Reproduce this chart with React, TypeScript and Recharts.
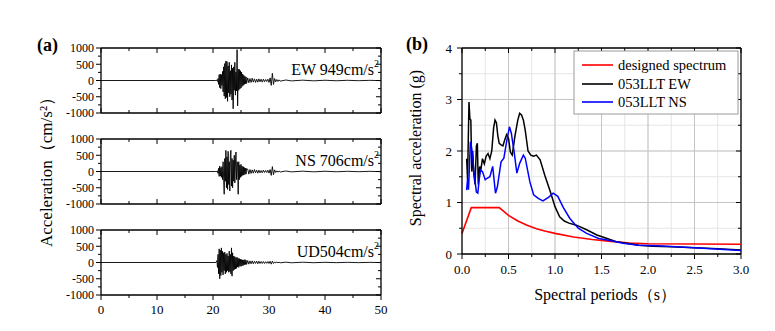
import React from 'react';
import { LineChart, Line, XAxis, YAxis, CartesianGrid, ReferenceLine } from 'recharts';

const FONT = "'Liberation Serif', 'Times New Roman', serif";

// ---------- (a) acceleration time histories ----------
const waveTimes = [
  0, 10, 20, 20.5,
  20.7, 20.8, 20.9, 21.0, 21.1, 21.2, 21.3, 21.4, 21.5, 21.6,
  21.7, 21.8, 21.9, 22.0, 22.1, 22.2, 22.3, 22.4, 22.5, 22.6,
  22.7, 22.8, 22.9, 23.0, 23.1, 23.2, 23.3, 23.4, 23.5, 23.6,
  23.7, 23.8, 23.9, 24.0, 24.1, 24.2, 24.3, 24.4, 24.5, 24.6,
  24.7, 24.8, 24.9, 25.0, 25.1, 25.2, 25.3, 25.4, 25.5, 25.6,
  25.7, 25.8, 25.9, 26.0,
  26.2, 26.4, 26.6, 26.8, 27.0, 27.2, 27.4, 27.6, 27.8, 28.0,
  28.2, 28.4, 28.6, 28.8, 29.0, 29.2, 29.4, 29.6, 29.8, 30.0,
  30.2, 30.4, 30.6, 30.8, 31.0, 31.2, 31.4, 31.6, 31.8, 32.0,
  33, 34, 36, 38, 40, 42, 44, 46, 48, 50,
];

const ewAcc = [
  0, 0, 0, 0,
  10, -30, 60, -120, 180, -220, 200, -250, 180, -150,
  280, -350, 420, -480, 520, -560, 600, -520, 580, -640,
  450, -380, 560, -500, 300, -420, 480, -600, 380, -870,
  420, -300, 560, -450, 260, -320, 949, -780, 350, -300,
  340, -260, 300, -230, 260, -180, 200, -150, 160, -120,
  130, -100, 110, -90,
  80, -70, 60, -60, 70, -50, 50, -60, 40, -50,
  50, -40, 40, -50, 40, -40, 30, -30, 40, -60,
  80, -150, 220, -120, 60, -40, 30, -30, 20, -20,
  15, -12, 10, -10, 8, -8, 6, -6, 5, -5,
];

const nsAcc = [
  0, 0, 0, 0,
  0, 20, -60, 100, -150, 170, -140, 120, -180, 150,
  -250, 300, -200, -700, 400, -300, 650, -500, 450, -550,
  620, -400, 300, -600, 500, 650, -450, 400, -500, 350,
  -300, 500, -350, 200, 600, -250, 300, 200, -700, 300,
  -250, 200, -180, 220, -150, 160, -120, 150, -110, 120,
  -90, 100, -80, 90,
  70, -80, 60, -60, 50, -50, 60, -40, 40, -50,
  40, -40, 30, -40, 40, -30, 30, -30, 40, -50,
  60, -120, 150, -100, 50, -30, 20, -20, 15, -15,
  15, -12, 10, -10, 8, -8, 6, -6, 5, -5,
];

const udAcc = [
  0, 0, 0, 0,
  60, -150, 250, -350, 420, -500, 380, -400, 450, -300,
  350, -380, 300, -250, 320, -350, 250, -300, 280, -250,
  200, -300, 350, -280, 250, -350, 450, -420, 300, -250,
  200, -220, 180, -200, 150, -180, 160, -140, 130, -150,
  120, -110, 100, -120, 90, -100, 80, -90, 80, -70,
  90, -60, 70, -60,
  60, -50, 50, -40, 50, -40, 40, -30, 40, -40,
  40, -30, 30, -30, 30, -30, 25, -25, 30, -30,
  40, -50, 40, -30, 20, -15, 15, -10, 10, -10,
  10, -8, 8, -6, 6, -5, 5, -4, 4, -3,
];

const waveXTicks = [0, 5, 10, 15, 20, 25, 30, 35, 40, 45, 50];
const waveYTicks = [-1000, -750, -500, -250, 0, 250, 500, 750, 1000];
const waveComponents = ['ew', 'ns', 'ud'];
const wavePeakText = ['EW 949cm/s', 'NS 706cm/s', 'UD504cm/s'];

const waveData = waveTimes.map((t, i) => ({ t, ew: ewAcc[i], ns: nsAcc[i], ud: udAcc[i] }));

// ---------- (b) response spectra ----------
const designPeriods = [0, 0.1, 0.4, 0.5, 0.6, 0.7, 0.8, 0.9, 1.0, 1.2, 1.4, 1.6, 1.8, 2.0, 2.5, 3.0];
const designSa = [0.4, 0.9, 0.9, 0.75, 0.64, 0.56, 0.49, 0.44, 0.4, 0.33, 0.28, 0.245, 0.215, 0.2, 0.195, 0.19];

const ewPeriods = [
  0.05, 0.06, 0.075, 0.085, 0.095, 0.105, 0.115, 0.125, 0.14, 0.155,
  0.165, 0.175, 0.19, 0.2, 0.22, 0.24, 0.26, 0.28, 0.3, 0.32,
  0.34, 0.355, 0.37, 0.385, 0.4, 0.42, 0.44, 0.46, 0.48, 0.5,
  0.52, 0.54, 0.57, 0.6, 0.62, 0.64, 0.66, 0.68, 0.71, 0.74,
  0.77, 0.8, 0.84, 0.89, 0.95, 1.0, 1.05, 1.1, 1.15, 1.23,
  1.34, 1.45, 1.56, 1.66, 1.77, 1.9, 2.05, 2.25, 2.5, 2.75, 3.0,
];
const ewSa = [
  1.85, 1.45, 2.95, 2.62, 2.6, 1.6, 2.0, 1.6, 1.35, 2.1,
  2.15, 1.35, 1.7, 1.6, 1.85, 1.75, 1.9, 1.95, 1.85, 2.0,
  2.45, 2.6, 2.55, 2.3, 2.15, 2.12, 2.1, 2.22, 2.32, 2.25,
  1.98, 1.92, 2.3, 2.6, 2.73, 2.7, 2.6, 2.4, 2.0, 1.92,
  1.9, 1.92, 1.83, 1.53, 1.21, 0.92, 0.72, 0.64, 0.6, 0.56,
  0.47, 0.37, 0.3, 0.24, 0.21, 0.17, 0.15, 0.14, 0.12, 0.1, 0.08,
];

const nsPeriods = [
  0.05, 0.06, 0.07, 0.08, 0.09, 0.1, 0.115, 0.13, 0.14, 0.155,
  0.17, 0.185, 0.2, 0.22, 0.25, 0.27, 0.3, 0.33, 0.36, 0.38,
  0.42, 0.45, 0.48, 0.51, 0.53, 0.56, 0.59, 0.62, 0.66, 0.68,
  0.73, 0.77, 0.82, 0.87, 0.93, 0.98, 1.03, 1.09, 1.16, 1.25,
  1.34, 1.47, 1.59, 1.73, 1.9, 2.1, 2.5, 3.0,
];
const nsSa = [
  1.24, 1.46, 1.25, 1.7, 2.18, 2.1, 1.9, 1.55, 1.42, 1.2,
  1.18, 1.45, 1.63, 1.6, 1.44, 1.47, 1.5, 1.7, 1.18, 1.3,
  1.79, 1.86, 2.18, 2.47, 2.35, 1.99, 1.57, 1.76, 1.92, 1.86,
  1.4, 1.15, 1.08, 1.03, 1.1, 1.18, 1.12, 0.9, 0.69, 0.5,
  0.4, 0.3, 0.26, 0.21, 0.17, 0.16, 0.12, 0.07,
];

const specXTicks = [0, 0.25, 0.5, 0.75, 1, 1.25, 1.5, 1.75, 2, 2.25, 2.5, 2.75, 3];
const specYTicks = [0, 0.5, 1, 1.5, 2, 2.5, 3, 3.5, 4];
const specMajorX = [0.5, 1, 1.5, 2, 2.5];
const specMajorY = [1, 2, 3];
const legendNames = ['designed spectrum', '053LLT EW', '053LLT NS'];
const seriesColors = ['#ff0000', '#000000', '#0000ff'];

const designData = designPeriods.map((T, i) => ({ T, v: designSa[i] }));
const ewData = ewPeriods.map((T, i) => ({ T, v: ewSa[i] }));
const nsData = nsPeriods.map((T, i) => ({ T, v: nsSa[i] }));

// ---------- geometry ----------
const WAVE_W = 280;
const WAVE_H = 65;
const WAVE_TOPS = [48, 139, 230];
const WAVE_PAD_TOP = 9;
const SPEC_W = 279;
const SPEC_H = 206;

const makeWaveXTick = (labels: boolean) => (p: any) => {
  const { x, y, payload } = p;
  const v = payload.value;
  const major = v % 10 === 0;
  const len = major ? 5 : 3;
  return (
    <g>
      <line x1={x} x2={x} y1={y} y2={labels ? y + len : y - len} stroke="#000" strokeWidth={1} />
      <line x1={x} x2={x} y1={y - WAVE_H} y2={y - WAVE_H + len} stroke="#000" strokeWidth={1} />
      {labels && major && (
        <text x={x} y={y + 19} textAnchor="middle" fontFamily={FONT} fontSize={13} fill="#000">
          {v}
        </text>
      )}
    </g>
  );
};

const waveYTick = (p: any) => {
  const { x, y, payload } = p;
  const v = payload.value;
  const major = v % 500 === 0;
  const len = major ? 5 : 3;
  return (
    <g>
      <line x1={x - len} x2={x} y1={y} y2={y} stroke="#000" strokeWidth={1} />
      <line x1={x + WAVE_W - len} x2={x + WAVE_W} y1={y} y2={y} stroke="#000" strokeWidth={1} />
      {major && (
        <text x={x - 7} y={y} dy="0.36em" textAnchor="end" fontFamily={FONT} fontSize={12} fill="#000">
          {v}
        </text>
      )}
    </g>
  );
};

const specXTick = (p: any) => {
  const { x, y, payload } = p;
  const v = payload.value;
  const major = Math.abs(v * 2 - Math.round(v * 2)) < 1e-6;
  const len = major ? 5 : 3;
  return (
    <g>
      <line x1={x} x2={x} y1={y} y2={y + len} stroke="#000" strokeWidth={1} />
      <line x1={x} x2={x} y1={y - SPEC_H} y2={y - SPEC_H + len} stroke="#000" strokeWidth={1} />
      {major && (
        <text x={x} y={y + 20} textAnchor="middle" fontFamily={FONT} fontSize={13} fill="#000">
          {v.toFixed(1)}
        </text>
      )}
    </g>
  );
};

const specYTick = (p: any) => {
  const { x, y, payload } = p;
  const v = payload.value;
  const major = Number.isInteger(v);
  const len = major ? 5 : 3;
  return (
    <g>
      <line x1={x - len} x2={x} y1={y} y2={y} stroke="#000" strokeWidth={1} />
      <line x1={x + SPEC_W - len} x2={x + SPEC_W} y1={y} y2={y} stroke="#000" strokeWidth={1} />
      {major && (
        <text x={x - 10} y={y} dy="0.36em" textAnchor="end" fontFamily={FONT} fontSize={13} fill="#000">
          {v}
        </text>
      )}
    </g>
  );
};

function WavePanel({ idx }: { idx: number }) {
  const showLabels = idx === 2;
  const xAxisH = showLabels ? 25 : 10;
  const plotTop = WAVE_TOPS[idx];
  return (
    <div style={{ position: 'absolute', left: 0, top: plotTop - WAVE_PAD_TOP }}>
      <LineChart
        width={390}
        height={WAVE_PAD_TOP + WAVE_H + xAxisH}
        data={waveData}
        margin={{ top: WAVE_PAD_TOP, right: 9, left: 0, bottom: 0 }}
      >
        <XAxis
          dataKey="t"
          type="number"
          domain={[0, 50]}
          ticks={waveXTicks}
          interval={0}
          tickSize={0}
          tickMargin={0}
          height={xAxisH}
          axisLine={{ stroke: '#000', strokeWidth: 1.3 }}
          tick={makeWaveXTick(showLabels)}
        />
        <YAxis
          type="number"
          domain={[-1000, 1000]}
          ticks={waveYTicks}
          interval={0}
          width={101}
          tickSize={0}
          tickMargin={0}
          axisLine={{ stroke: '#000', strokeWidth: 1.3 }}
          tick={waveYTick}
        />
        <ReferenceLine y={1000} stroke="#000" strokeWidth={1.3} />
        <ReferenceLine x={50} stroke="#000" strokeWidth={1.3} />
        <Line
          dataKey={waveComponents[idx]}
          stroke="#000"
          strokeWidth={0.9}
          dot={false}
          isAnimationActive={false}
        />
      </LineChart>
    </div>
  );
}

function SpectrumPanel() {
  return (
    <div style={{ position: 'absolute', left: 390, top: 0 }}>
      <LineChart width={385} height={331} margin={{ top: 48, right: 34, left: 0, bottom: 0 }}>
        <CartesianGrid stroke="#e6e6e6" strokeWidth={1} />
        {specMajorX.map((g) => (
          <ReferenceLine key={'gx' + g} x={g} stroke="#c4c4c4" strokeWidth={1} />
        ))}
        {specMajorY.map((g) => (
          <ReferenceLine key={'gy' + g} y={g} stroke="#c4c4c4" strokeWidth={1} />
        ))}
        <XAxis
          dataKey="T"
          type="number"
          domain={[0, 3]}
          ticks={specXTicks}
          interval={0}
          tickSize={0}
          tickMargin={0}
          height={77}
          axisLine={{ stroke: '#000', strokeWidth: 1.3 }}
          tick={specXTick}
          allowDuplicatedCategory={false}
        />
        <YAxis
          type="number"
          domain={[0, 4]}
          ticks={specYTicks}
          interval={0}
          width={72}
          tickSize={0}
          tickMargin={0}
          axisLine={{ stroke: '#000', strokeWidth: 1.3 }}
          tick={specYTick}
        />
        <ReferenceLine y={4} stroke="#000" strokeWidth={1.3} />
        <ReferenceLine x={3} stroke="#000" strokeWidth={1.3} />
        <Line data={designData} dataKey="v" stroke={seriesColors[0]} strokeWidth={1.6} dot={false} isAnimationActive={false} />
        <Line data={ewData} dataKey="v" stroke={seriesColors[1]} strokeWidth={1.5} dot={false} isAnimationActive={false} />
        <Line data={nsData} dataKey="v" stroke={seriesColors[2]} strokeWidth={1.5} dot={false} isAnimationActive={false} />
      </LineChart>
    </div>
  );
}

function Overlay() {
  const legendRows = [65, 84, 102];
  return (
    <svg
      width={775}
      height={331}
      style={{ position: 'absolute', left: 0, top: 0, pointerEvents: 'none' }}
      fontFamily={FONT}
    >
      <text x={37} y={51} fontSize={18} fontWeight="bold" fill="#000">(a)</text>
      <text x={406} y={50} fontSize={18} fontWeight="bold" fill="#000">(b)</text>
      <text
        x={46}
        y={168}
        fontSize={17}
        fill="#000"
        textAnchor="middle"
        dominantBaseline="central"
        transform="rotate(-90 46 168)"
      >
        Acceleration（cm/s²）
      </text>
      {WAVE_TOPS.map((top, i) => (
        <text key={i} x={379} y={top + 27} fontSize={16} textAnchor="end" fill="#000">
          {wavePeakText[i]}
          <tspan fontSize={10} dy={-8}>2</tspan>
        </text>
      ))}
      <text
        x={415}
        y={148}
        fontSize={16}
        fill="#000"
        textAnchor="middle"
        dominantBaseline="central"
        transform="rotate(-90 415 148)"
      >
        Spectral acceleration (g)
      </text>
      <text x={605} y={300} fontSize={16} textAnchor="middle" fill="#000">
        Spectral periods（s）
      </text>
      <rect x={574} y={51} width={164} height={63} fill="#fff" stroke="#999" strokeWidth={1} />
      {legendNames.map((name, i) => (
        <g key={name}>
          <line x1={582} x2={613} y1={legendRows[i]} y2={legendRows[i]} stroke={seriesColors[i]} strokeWidth={1.6} />
          <text x={618} y={legendRows[i]} dy="0.35em" fontSize={14.5} fill="#000">
            {name}
          </text>
        </g>
      ))}
    </svg>
  );
}

export default function App() {
  return (
    <div
      style={{
        position: 'absolute',
        left: 0,
        top: 0,
        width: 775,
        height: 331,
        background: '#fff',
        overflow: 'hidden',
      }}
    >
      <WavePanel idx={0} />
      <WavePanel idx={1} />
      <WavePanel idx={2} />
      <SpectrumPanel />
      <Overlay />
    </div>
  );
}
